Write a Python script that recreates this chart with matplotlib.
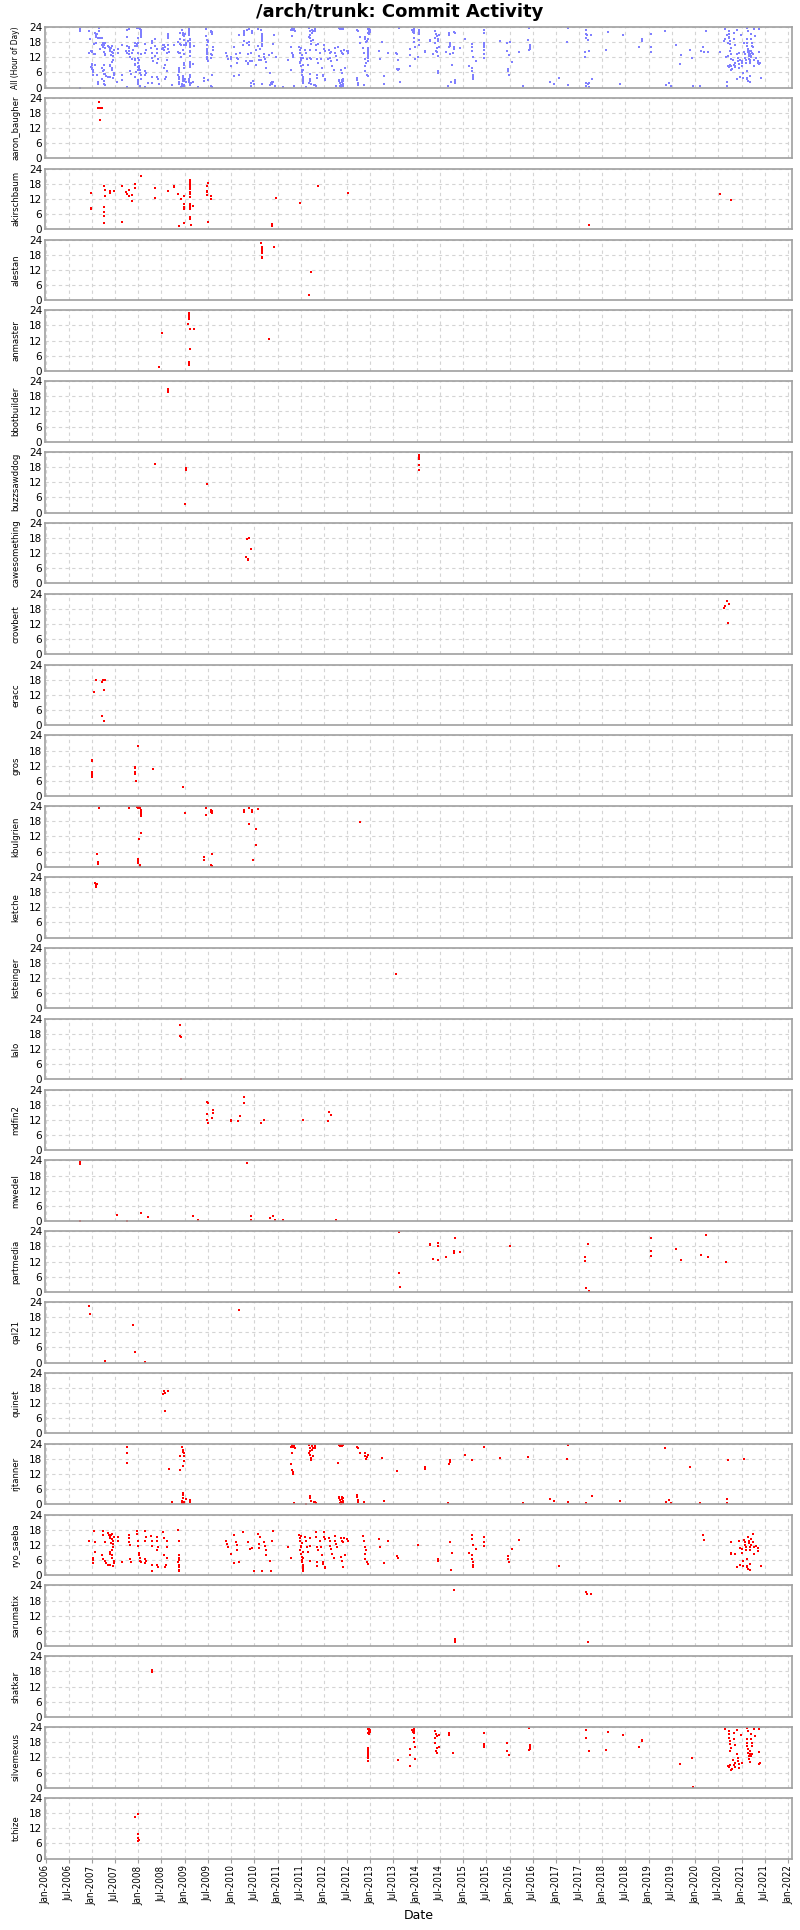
import matplotlib
matplotlib.use('Agg')
import matplotlib.pyplot as plt
import matplotlib.dates as mdates
from datetime import datetime, timedelta

# ---------------- data (decimal year, hour of day) ----------------
users = ["aaron_baugher", "akirschbaum", "alestan", "anmaster", "bbotbuilder",
         "buzzsawddog", "cawesomething", "crowbert", "eracc", "gros", "kbulgrien",
         "ketche", "ksteinger", "lalo", "mdfin2", "mwedel", "partmedia", "qal21",
         "quinet", "rjtanner", "ryo_saeba", "sarumatix", "shatkar", "silvemexus", "tchize"]

aaron_baugher_t = [2007.15, 2007.13, 2007.21, 2007.17, 2007.17]
aaron_baugher_h = [22.4, 19.8, 19.8, 15.4, 19.8]

akirschbaum_t = [2006.99, 2006.99, 2006.99, 2007.27, 2007.29, 2007.28, 2007.26, 2007.26, 2007.26, 2007.26,
                 2007.38, 2007.38, 2007.39, 2007.48, 2007.66, 2007.66, 2007.74, 2007.76, 2007.79, 2007.80,
                 2007.87, 2007.87, 2007.92, 2007.93, 2008.05, 2008.35, 2008.35, 2008.65, 2008.76, 2008.76,
                 2008.86, 2008.92, 2008.87, 2008.98, 2008.98, 2008.98, 2008.98, 2008.98,
                 2009.12, 2009.12, 2009.12, 2009.12, 2009.12, 2009.12, 2009.12, 2009.12, 2009.12,
                 2009.12, 2009.12, 2009.12, 2009.12, 2009.12, 2009.12, 2009.13, 2009.18,
                 2009.47, 2009.50, 2009.49, 2009.49, 2009.48, 2009.56, 2009.56, 2009.50,
                 2010.88, 2010.88, 2010.96, 2011.48, 2011.88, 2012.51, 2017.71, 2020.53, 2020.77]
akirschbaum_h = [14.3, 8.3, 8.0, 17.0, 15.5, 13.0, 8.8, 7.0, 5.4, 2.4,
                 15.0, 14.4, 15.0, 15.0, 17.0, 3.0, 14.6, 13.8, 13.1, 15.5,
                 13.6, 11.3, 17.8, 16.3, 21.0, 16.5, 12.5, 15.3, 17.0, 16.7,
                 13.9, 12.1, 1.4, 13.1, 9.8, 8.9, 7.9, 2.6,
                 19.4, 18.8, 17.8, 17.2, 16.5, 16.0, 14.6, 13.9, 12.6,
                 10.1, 9.3, 8.7, 8.0, 4.9, 4.1, 1.8, 9.3,
                 17.0, 18.2, 15.3, 14.6, 13.4, 13.2, 11.8, 2.9,
                 2.0, 1.4, 12.2, 10.2, 17.2, 14.3, 1.6, 13.9, 11.5]

alestan_t = [2010.65, 2010.66, 2010.66, 2010.67, 2010.67, 2010.67, 2010.67, 2010.67, 2010.93, 2011.73, 2011.68]
alestan_h = [22.7, 21.1, 20.4, 19.8, 19.1, 18.5, 17.2, 16.5, 21.0, 11.2, 1.8]

anmaster_t = [2008.50, 2008.44, 2009.09, 2009.09, 2009.09, 2009.09, 2009.09, 2009.08, 2009.12, 2009.19,
              2009.12, 2009.09, 2009.09, 2009.09, 2010.81]
anmaster_h = [15.2, 1.5, 23.1, 22.6, 22.0, 21.4, 20.7, 18.6, 16.5, 16.5,
              8.5, 3.5, 2.9, 2.2, 12.8]

bbotbuilder_t = [2008.65, 2008.65, 2008.65]
bbotbuilder_h = [21.1, 20.4, 19.8]

buzzsawddog_t = [2008.36, 2009.02, 2009.02, 2009.47, 2009.00, 2014.04, 2014.04, 2014.04, 2014.04, 2014.04]
buzzsawddog_h = [19.1, 17.5, 16.8, 11.4, 3.3, 22.8, 22.0, 21.4, 18.8, 16.7]

cawesomething_t = [2010.35, 2010.39, 2010.33, 2010.37, 2010.36, 2010.42]
cawesomething_h = [17.5, 18.0, 10.5, 9.8, 9.4, 13.5]

crowbert_t = [2020.62, 2020.64, 2020.68, 2020.72, 2020.70]
crowbert_h = [18.5, 19.3, 21.0, 20.0, 12.5]

eracc_t = [2007.08, 2007.04, 2007.21, 2007.23, 2007.28, 2007.26, 2007.21, 2007.27]
eracc_h = [17.8, 13.2, 17.0, 17.7, 17.8, 14.1, 3.4, 1.5]

gros_t = [2007.01, 2007.01, 2007.01, 2007.01, 2007.01, 2007.01, 2008.00, 2007.92, 2007.92, 2007.92,
          2007.92, 2007.95, 2008.32, 2008.97, 2008.97]
gros_h = [14.4, 14.0, 9.5, 8.8, 7.7, 7.3, 19.6, 11.4, 11.0, 9.3,
          8.8, 6.0, 10.7, 3.7, 3.4]

kbulgrien_t = [2007.15, 2007.12, 2007.13, 2007.13, 2007.80, 2007.98, 2008.00, 2008.02, 2008.03, 2008.05,
               2008.05, 2008.05, 2008.05, 2008.06, 2008.05, 2008.02, 2007.99, 2007.99, 2008.00, 2008.03,
               2008.04, 2009.01, 2009.45, 2009.45, 2009.41, 2009.41, 2009.56, 2009.57, 2009.58, 2009.59,
               2009.58, 2009.57, 2009.59, 2010.27, 2010.27, 2010.39, 2010.46, 2010.46, 2010.57, 2010.39,
               2010.53, 2010.53, 2010.48, 2012.78]
kbulgrien_h = [23.5, 4.9, 2.0, 1.2, 23.2, 23.8, 23.5, 23.8, 23.2, 22.7,
               22.0, 21.4, 20.7, 20.1, 13.3, 10.9, 3.0, 2.1, 1.4, 0.7,
               0.2, 21.4, 23.3, 20.4, 3.7, 2.5, 22.6, 21.9, 21.4, 22.0,
               5.0, 0.5, 0.1, 22.6, 21.7, 23.3, 22.4, 21.8, 23.1, 16.9,
               15.0, 8.8, 2.5, 17.7]

ketche_t = [2007.06, 2007.08, 2007.08, 2007.10]
ketche_h = [21.8, 21.0, 20.2, 21.4]

ksteinger_t = [2013.56]
ksteinger_h = [13.8]

lalo_t = [2008.90, 2008.90, 2008.91, 2008.91]
lalo_h = [21.5, 17.2, 16.8, 0.3]

mdfin2_t = [2009.49, 2009.50, 2009.49, 2009.48, 2009.51, 2009.58, 2009.61, 2009.61, 2009.99, 2009.99,
            2010.15, 2010.19, 2010.27, 2010.27, 2010.65, 2010.71, 2011.54, 2012.08, 2012.11, 2012.16]
mdfin2_h = [19.0, 18.5, 14.2, 12.0, 10.6, 12.9, 15.9, 14.8, 12.1, 11.5,
            11.4, 13.6, 21.0, 18.5, 10.9, 12.1, 11.9, 11.5, 15.0, 14.0]

mwedel_t = [2006.75, 2006.75, 2006.75, 2007.54, 2007.76, 2008.05, 2008.20, 2009.17, 2009.29, 2010.35,
            2010.42, 2010.42, 2010.83, 2010.91, 2010.94, 2011.11, 2012.26]
mwedel_h = [23.2, 22.6, 0.0, 2.2, 0.1, 3.3, 1.7, 2.0, 0.3, 22.8,
            1.8, 0.4, 1.0, 2.0, 0.5, 0.3, 0.4]

partmedia_t = [2013.61, 2013.62, 2013.63, 2014.28, 2014.28, 2014.35, 2014.45, 2014.45, 2014.45, 2014.63,
               2014.82, 2014.81, 2014.81, 2014.94, 2016.02, 2017.62, 2017.62, 2017.68, 2017.64, 2017.70,
               2019.05, 2019.05, 2019.05, 2019.58, 2019.69, 2020.13, 2020.23, 2020.28, 2020.66]
partmedia_h = [23.7, 7.5, 2.0, 19.0, 18.6, 13.1, 19.3, 18.3, 12.5, 13.9,
               21.5, 16.2, 15.2, 15.6, 18.2, 13.9, 12.1, 19.0, 1.6, 0.3,
               21.2, 16.0, 14.0, 16.8, 12.7, 14.5, 22.4, 13.9, 12.0]

qal21_t = [2006.94, 2006.95, 2007.28, 2007.89, 2007.92, 2008.15, 2010.17]
qal21_h = [22.5, 19.4, 0.8, 15.0, 4.1, 0.3, 21.0]

quinet_t = [2008.55, 2008.58, 2008.53, 2008.64, 2008.57]
quinet_h = [17.0, 16.0, 15.5, 17.0, 9.0]

rjtanner_t = [2007.76, 2007.76, 2007.76, 2008.67, 2008.72, 2008.89, 2008.90,
              2008.95, 2008.96, 2008.97, 2008.98, 2008.99, 2008.99, 2008.97,
              2008.94, 2008.95, 2008.96, 2008.97, 2008.98, 2008.99, 2009.02, 2008.96, 2009.12, 2009.12,
              2011.29, 2011.31, 2011.34, 2011.36, 2011.38, 2011.32, 2011.30, 2011.31, 2011.33, 2011.34,
              2011.35, 2011.62,
              2011.68, 2011.69, 2011.70, 2011.71, 2011.72, 2011.73, 2011.68, 2011.74, 2011.75, 2011.76,
              2011.77, 2011.81, 2011.81,
              2011.70, 2011.71, 2011.72, 2011.78, 2011.81, 2011.82, 2012.30,
              2012.33, 2012.36, 2012.38, 2012.41, 2012.34, 2012.38, 2012.40,
              2012.32, 2012.33, 2012.34, 2012.36, 2012.37, 2012.38, 2012.39, 2012.40, 2012.35, 2012.36,
              2012.38, 2012.41, 2012.42,
              2012.72, 2012.74, 2012.77, 2012.88, 2012.89, 2012.92, 2012.91, 2012.95,
              2012.72, 2012.72, 2012.73, 2012.74, 2012.87,
              2013.25, 2013.30, 2013.58, 2014.18, 2014.18, 2014.71, 2014.71, 2014.71, 2014.70, 2014.68,
              2015.05, 2015.18, 2015.45, 2015.79, 2016.28, 2016.39, 2016.88, 2016.96, 2017.26, 2017.24,
              2017.26, 2017.65, 2017.78, 2018.38, 2019.36, 2019.37, 2019.43, 2019.47, 2019.89, 2020.10,
              2020.70, 2020.69, 2020.69, 2021.05]
rjtanner_h = [22.9, 20.2, 16.4, 14.2, 0.9, 19.2, 13.6,
              22.9, 21.6, 20.9, 20.3, 19.0, 17.0, 15.0,
              1.5, 0.7, 4.4, 2.4, 1.1, 0.4, 2.0, 3.6, 1.7, 1.1,
              22.9, 23.6, 22.7, 23.2, 22.5, 20.4, 15.9, 13.6, 13.0, 12.1,
              0.4, 0.1,
              23.6, 22.3, 21.0, 19.6, 18.3, 17.4, 20.2, 23.0, 21.5, 19.0,
              22.3, 23.2, 22.3,
              3.3, 2.4, 1.5, 0.9, 0.9, 0.4, 16.2,
              23.6, 23.6, 23.6, 23.6, 23.2, 23.2, 23.4,
              3.0, 2.4, 1.7, 1.1, 0.7, 2.0, 2.8, 1.5, 0.4, 0.2,
              0.9, 0.5, 2.4,
              22.9, 22.3, 20.2, 20.2, 19.2, 18.6, 18.0, 19.4,
              3.7, 2.8, 1.7, 0.9, 1.1,
              18.2, 1.5, 13.3, 14.6, 14.1, 17.6, 17.1, 16.6, 15.9, 0.7,
              19.4, 17.4, 22.9, 18.4, 0.7, 18.7, 2.0, 1.5, 23.5, 18.0,
              0.9, 0.7, 3.3, 1.5, 22.3, 1.1, 1.7, 0.4, 14.7, 0.4,
              17.6, 2.3, 0.7, 17.8]

ryo_saeba_t = [2006.93, 2007.04, 2007.06, 2007.06, 2007.02, 2007.02, 2007.02,
               2007.23, 2007.24, 2007.28, 2007.22, 2007.24, 2007.28, 2007.31, 2007.34,
               2007.34, 2007.36, 2007.38, 2007.40, 2007.43, 2007.45, 2007.45, 2007.46, 2007.43, 2007.40,
               2007.39, 2007.43, 2007.43, 2007.48, 2007.48, 2007.38, 2007.46, 2007.41, 2007.44, 2007.47,
               2007.42, 2007.56, 2007.56, 2007.66,
               2007.79, 2007.81, 2007.80, 2007.82, 2007.83, 2007.85,
               2007.98, 2007.98, 2008.00, 2008.00, 2008.01, 2008.02, 2008.03, 2008.04, 2008.05,
               2008.14, 2008.16, 2008.15, 2008.14, 2008.16, 2008.15,
               2008.28, 2008.29, 2008.29, 2008.30, 2008.29,
               2008.41, 2008.40, 2008.42, 2008.40, 2008.41, 2008.42,
               2008.54, 2008.55, 2008.56, 2008.57, 2008.61, 2008.62, 2008.61, 2008.60,
               2008.86, 2008.88, 2008.87, 2008.88, 2008.87, 2008.86, 2008.87, 2008.88, 2008.87, 2008.88,
               2009.89, 2009.92, 2009.93, 2009.99, 2010.07, 2010.11, 2010.12, 2010.13, 2010.07, 2010.18,
               2010.26, 2010.36, 2010.40, 2010.45, 2010.50, 2010.66,
               2010.58, 2010.62, 2010.60, 2010.61, 2010.71, 2010.73, 2010.76, 2010.76, 2010.83, 2010.89,
               2010.87, 2010.90, 2011.23, 2011.28,
               2011.46, 2011.48, 2011.49, 2011.50, 2011.51, 2011.48, 2011.51, 2011.52, 2011.53, 2011.53,
               2011.54, 2011.55, 2011.55, 2011.56, 2011.50, 2011.52, 2011.54, 2011.56,
               2011.60, 2011.62, 2011.64, 2011.66, 2011.69, 2011.70, 2011.71,
               2011.82, 2011.83, 2011.85, 2011.85, 2011.86, 2011.88,
               2011.92, 2011.93, 2011.95, 2011.97, 2011.98, 2012.00,
               2012.01, 2012.02, 2012.02, 2012.03,
               2012.11, 2012.13, 2012.14, 2012.16, 2012.18, 2012.21, 2012.23, 2012.24, 2012.26, 2012.28,
               2012.36, 2012.39, 2012.40, 2012.44, 2012.49, 2012.36, 2012.39, 2012.40, 2012.46, 2012.52,
               2012.84, 2012.86, 2012.88, 2012.90, 2012.88, 2012.89, 2012.92, 2012.94,
               2013.18, 2013.20, 2013.30, 2013.38, 2013.58, 2013.59, 2014.02, 2014.46, 2014.46, 2014.72,
               2014.73, 2014.77,
               2015.13, 2015.18, 2015.20, 2015.22, 2015.22, 2015.21, 2015.19, 2015.20, 2015.21, 2015.28,
               2015.45, 2015.46, 2015.46, 2015.96, 2015.97, 2015.98, 2016.05, 2016.20, 2017.06,
               2020.17, 2020.20,
               2020.76, 2020.76, 2020.78, 2020.86, 2020.90, 2020.95, 2020.96, 2020.97,
               2021.00, 2021.01, 2021.02, 2021.03,
               2021.06, 2021.07, 2021.08, 2021.09, 2021.10, 2021.11, 2021.11, 2021.12, 2021.13,
               2021.14, 2021.15, 2021.16, 2021.17, 2021.18, 2021.19, 2021.19,
               2021.21, 2021.24, 2021.26, 2021.27, 2021.24, 2021.20,
               2021.31, 2021.35, 2021.36, 2021.42]
ryo_saeba_h = [13.5, 17.4, 13.1, 9.1, 6.9, 6.1, 5.0,
               17.4, 16.1, 13.1, 7.8, 6.5, 5.5, 4.7, 4.2,
               16.6, 16.0, 15.3, 14.8, 14.2, 13.7, 12.4, 11.1, 10.0, 9.1,
               8.4, 7.8, 6.9, 5.8, 5.0, 4.2, 3.8, 15.8, 16.4, 15.0,
               12.8, 15.3, 13.7, 5.1,
               16.0, 14.6, 13.1, 12.0, 6.5, 5.4,
               17.4, 16.4, 13.7, 11.7, 8.7, 7.8, 6.9, 5.8, 5.1,
               17.4, 15.0, 13.7, 6.5, 5.8, 5.0,
               15.7, 13.7, 11.6, 4.2, 1.8,
               15.3, 13.7, 11.3, 9.8, 4.2, 3.4,
               17.0, 14.8, 7.8, 3.4, 13.7, 11.1, 6.7, 4.2,
               17.9, 13.5, 7.8, 6.9, 6.1, 5.1, 4.2, 3.2, 2.1, 1.5,
               13.5, 12.4, 11.3, 8.4, 16.0, 13.1, 11.9, 9.8, 4.7, 5.1,
               17.0, 13.3, 10.5, 10.6, 1.5, 1.5,
               16.3, 15.3, 12.4, 10.8, 13.1, 11.5, 10.0, 7.8, 5.8, 13.7,
               1.6, 17.4, 11.1, 6.9,
               16.1, 14.8, 13.7, 11.7, 11.1, 9.8, 8.4, 7.1, 6.1, 5.1,
               4.2, 3.4, 2.5, 1.6, 15.5, 12.8, 9.0, 6.8,
               15.0, 13.7, 11.3, 9.1, 14.8, 11.6, 5.5,
               17.0, 15.0, 11.3, 5.1, 3.8, 9.8,
               13.7, 11.3, 7.8, 5.1, 4.5, 15.3,
               17.0, 14.4, 3.2, 2.9,
               14.8, 13.7, 11.6, 10.4, 8.4, 6.9, 15.5, 13.7, 12.4, 11.1,
               14.6, 13.7, 13.1, 14.8, 14.4, 7.1, 5.8, 3.2, 7.8, 13.7,
               15.5, 13.7, 11.3, 9.8, 8.4, 6.5, 5.1, 4.5,
               14.4, 11.3, 4.7, 13.5, 7.4, 6.9, 12.1, 6.5, 5.8, 13.1,
               2.2, 8.8,
               8.7, 7.8, 6.5, 5.1, 4.2, 3.4, 16.0, 14.4, 12.1, 10.4,
               15.0, 13.1, 11.6, 7.4, 6.5, 5.1, 10.3, 14.1, 3.6,
               16.0, 14.1,
               13.1, 8.7, 8.4, 8.4, 3.2, 13.7, 10.8, 4.2,
               10.4, 8.7, 5.8, 3.8,
               14.0, 13.1, 11.9, 11.1, 9.8, 6.5, 3.8, 3.2, 2.5,
               15.0, 13.7, 12.7, 11.1, 9.8, 4.5, 2.1,
               14.4, 13.1, 11.1, 8.4, 16.2, 12.0,
               11.6, 10.6, 9.6, 3.8]

sarumatix_t = [2014.81, 2014.82, 2014.82, 2014.83, 2017.64, 2017.66, 2017.75, 2017.69]
sarumatix_h = [22.2, 2.9, 2.2, 1.7, 21.3, 20.7, 20.7, 1.5]

shatkar_t = [2008.30, 2008.30]
shatkar_h = [18.6, 17.8]

silvemexus_t = [2012.94, 2012.96, 2012.98, 2013.00, 2012.94, 2012.96, 2013.00, 2012.98,
                2012.94, 2012.94, 2012.94, 2012.94, 2012.94, 2012.94, 2012.95, 2012.94,
                2013.59, 2013.85, 2013.85, 2013.86,
                2013.90, 2013.92, 2013.93, 2013.95, 2013.95, 2013.95, 2013.95, 2013.96, 2013.96,
                2014.39, 2014.41, 2014.43, 2014.39, 2014.39, 2014.43, 2014.41, 2014.44, 2014.48, 2014.48,
                2014.69, 2014.69, 2014.78, 2015.44, 2015.44, 2015.45, 2015.45,
                2015.94, 2015.95, 2015.99, 2016.42, 2016.43, 2016.44, 2016.44, 2016.41,
                2017.64, 2017.65, 2017.72, 2018.08, 2018.13, 2018.45, 2018.78, 2018.85, 2018.86,
                2019.67, 2019.94, 2019.95, 2020.65,
                2020.72, 2020.73, 2020.73, 2020.74, 2020.75, 2020.76, 2020.74, 2020.75, 2020.73, 2020.70,
                2020.79, 2020.77,
                2020.83, 2020.84, 2020.86, 2020.81, 2020.83, 2020.85, 2020.86,
                2020.91, 2020.91, 2020.93, 2020.93, 2020.94, 2020.95, 2020.98, 2021.01,
                2021.11, 2021.13, 2021.12, 2021.11, 2021.12, 2021.13, 2021.14, 2021.15, 2021.16, 2021.17,
                2021.18, 2021.20, 2021.21, 2021.22, 2021.23, 2021.19, 2021.21, 2021.22,
                2021.26, 2021.28, 2021.37, 2021.37, 2021.38, 2021.40]
silvemexus_h = [23.1, 22.4, 22.8, 22.0, 21.7, 21.3, 22.7, 23.3,
                15.8, 15.2, 14.5, 13.9, 13.2, 12.5, 11.6, 10.6,
                11.1, 15.2, 12.8, 8.6,
                22.8, 22.0, 22.4, 23.4, 21.8, 19.8, 18.2, 16.0, 11.2,
                22.4, 21.1, 20.4, 19.8, 17.8, 15.8, 14.5, 13.9, 20.7, 16.0,
                21.5, 21.0, 13.6, 21.5, 17.5, 16.8, 16.1,
                17.8, 14.5, 12.9, 23.5, 16.9, 16.1, 15.2, 14.8,
                22.8, 19.8, 14.5, 14.8, 22.0, 20.8, 16.1, 19.1, 18.5,
                9.2, 11.6, 0.4, 23.1,
                22.6, 21.1, 19.8, 18.5, 17.2, 15.8, 14.5, 8.8, 8.1, 8.6,
                7.4, 7.0,
                21.6, 19.2, 17.0, 10.9, 8.8, 9.9, 8.2,
                22.7, 13.2, 11.9, 10.6, 9.2, 7.9, 20.7, 9.9,
                23.7, 22.4, 19.3, 17.8, 16.5, 15.2, 13.9, 12.5, 11.2, 10.2,
                14.5, 21.1, 19.4, 17.8, 16.5, 13.2, 12.5, 13.5,
                23.1, 20.4, 23.1, 14.1, 9.5, 9.9]

tchize_t = [2007.92, 2008.00, 2008.00, 2008.00, 2008.01, 2008.00]
tchize_h = [16.6, 17.8, 9.9, 8.0, 7.5, 7.1]

series = {name: (globals()[name + "_t"], globals()[name + "_h"]) for name in users}


def to_date(y):
    year = int(y)
    start = datetime(year, 1, 1)
    return start + timedelta(days=(y - year) * (datetime(year + 1, 1, 1) - start).days)


# ---------------- figure ----------------
W, H = 800, 1930
fig = plt.figure(figsize=(W / 100, H / 100), dpi=100)

panels = [("All (Hour of Day)", None)] + [(u, u) for u in users]
left_px, right_px = 45, 792
top0, pitch, ph = 27, 70.84, 60.5
spine_col = "#a0a0a0"

all_t, all_h = [], []
for u in users:
    all_t += series[u][0]
    all_h += series[u][1]

n = len(panels)
for i, (label, key) in enumerate(panels):
    top = top0 + pitch * i
    ax = fig.add_axes([left_px / W, 1 - (top + ph) / H, (right_px - left_px) / W, ph / H])
    if key is None:
        t, h, col = all_t, all_h, "#8080ff"
    else:
        t, h = series[key]
        col = "#ff0000"
    ax.plot([to_date(v) for v in t], h, linestyle="none", marker="s", markersize=1.9,
            markeredgewidth=0, color=col)
    ax.set_ylim(0, 24)
    ax.set_yticks([0, 6, 12, 18, 24])
    ax.set_xlim(datetime(2005, 12, 28), datetime(2022, 2, 1))
    ax.xaxis.set_major_locator(mdates.MonthLocator(bymonth=[1, 7]))
    ax.xaxis.set_major_formatter(mdates.DateFormatter("%b-%Y"))
    ax.grid(True, color="#d4d4d4", linestyle=(0, (3, 3)), linewidth=0.8)
    ax.set_axisbelow(True)
    for s in ax.spines.values():
        s.set_color(spine_col)
        s.set_linewidth(1.2)
    ax.tick_params(axis="y", length=0, pad=2, labelsize=7.5)
    ax.set_ylabel(label, fontsize=(6.0 if key is None else 6.8), fontstretch="condensed")
    ax.yaxis.set_label_coords(-0.033, 0.5)
    if i == n - 1:
        ax.tick_params(axis="x", length=3, color=spine_col, labelsize=7, labelrotation=90, pad=2)
        for lab in ax.get_xticklabels():
            lab.set_fontstretch("condensed")
        ax.set_xlabel("Date", fontsize=9, labelpad=3)
    else:
        ax.tick_params(axis="x", length=0, labelbottom=False)

fig.suptitle("/arch/trunk: Commit Activity", fontsize=13, fontweight="bold", x=0.5, y=1 - 12 / H,
             va="center")

fig.savefig("out.png", dpi=100)
